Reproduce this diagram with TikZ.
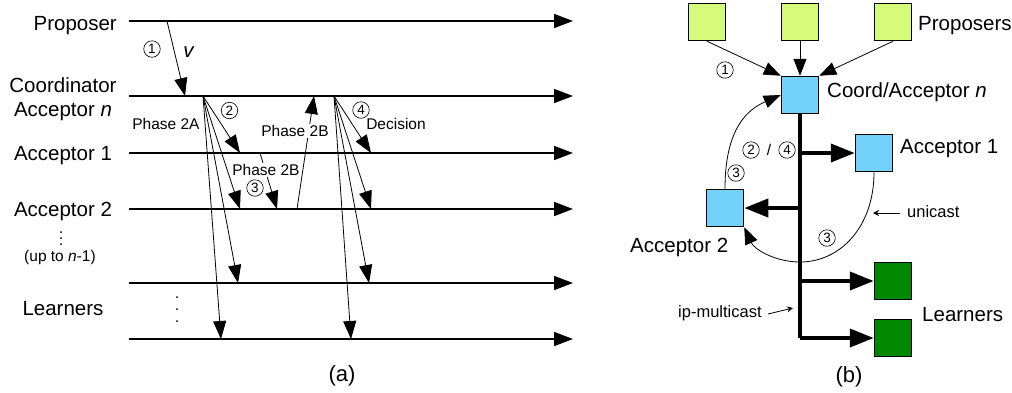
\documentclass[tikz,border=0pt]{standalone}
\usepackage{fontspec}
\setmainfont{Liberation Sans}
\usetikzlibrary{arrows.meta}

\definecolor{propgreen}{RGB}{214,250,122}
\definecolor{accblue}{RGB}{116,210,250}
\definecolor{learngreen}{RGB}{0,136,0}

\tikzset{
 timeline/.style={line width=1.6pt,-{Triangle[length=19pt,width=14pt]}},
 msg/.style={line width=0.8pt,-{Triangle[length=18pt,width=13pt]}},
 lbl/.style={font=\fontsize{20.5}{22}\selectfont, inner sep=0pt},
 small/.style={font=\fontsize{15.5}{17}\selectfont, inner sep=0pt},
 smallb/.style={font=\fontsize{16.5}{18}\selectfont, inner sep=0pt},
 circ/.style={circle, draw, line width=0.6pt, minimum size=16.5pt, inner sep=0pt,
   font=\fontsize{13.5}{14}\selectfont},
 box/.style={draw, line width=1.5pt, minimum width=37pt, minimum height=37pt, inner sep=0pt},
 bus/.style={line width=4pt},
 busarrow/.style={line width=4pt,-{Triangle[length=24pt,width=18pt]}},
 parrow/.style={line width=0.8pt,-{Triangle[length=17pt,width=13pt]}},
 carrow/.style={line width=0.8pt,-{Triangle[length=17pt,width=13pt]}},
 note/.style={line width=0.8pt,-{Stealth[length=6pt,width=6pt]}},
 dot/.style={circle, fill, inner sep=0pt, minimum size=2pt},
}

\begin{document}
\begin{tikzpicture}[x=1pt,y=-1pt]
\useasboundingbox (0,0) rectangle (1012,392);

% ---------- panel (a): timelines ----------
\foreach \n/\y in {P/21,C/96,A1/153,A2/209,L1/283,L2/339}{
  \coordinate (\n s) at (129,\y);
  \coordinate (\n e) at (573,\y);
  \draw[timeline] (\n s) -- (\n e);
}

\node[lbl, anchor=base east] (tP) at (117,30) {Proposer};
\node[lbl, anchor=base] (tC1) at (63,92) {Coordinator};
\node[lbl, anchor=base] (tC2) at (63,116) {Acceptor \textit{n}};
\node[lbl, anchor=base] (tA1) at (63,160) {Acceptor 1};
\node[lbl, anchor=base] (tA2) at (63,216) {Acceptor 2};
\node[small, anchor=base] (tup) at (60,261) {(up to \textit{n}-1)};
\node[lbl, anchor=base] (tL) at (63,315) {Learners};

\node[dot] (d1) at (61,232) {};
\node[dot] (d2) at (61,238) {};
\node[dot] (d3) at (61,244) {};
\node[dot] (e1) at (177,297) {};
\node[dot] (e2) at (177,309) {};
\node[dot] (e3) at (177,321) {};

% proposer -> coordinator
\coordinate (m1s) at (167,21);
\coordinate (m1e) at (185,96);
\draw[msg] (m1s) -- (m1e);
\node[circ] (n1) at (152,49) {1};
\node[lbl] (v) at (189,52) {\textit{v}};

% phase 2A fan
\coordinate (fa) at (203,96);
\coordinate (fa1) at (240,153);
\coordinate (fa2) at (240,209);
\coordinate (fa3) at (238,283);
\coordinate (fa4) at (221,339);
\foreach \t in {fa1,fa2,fa3,fa4} \draw[msg] (fa) -- (\t);
\node[circ] (n2) at (229.5,110.5) {2};
\node[small] (ph2a) at (166,124) {Phase 2A};

% acceptor 1 -> acceptor 2
\coordinate (m3s) at (260,153);
\coordinate (m3e) at (277,209);
\draw[msg] (m3s) -- (m3e);
% acceptor 2 -> coordinator
\coordinate (m4s) at (297,209);
\coordinate (m4e) at (314,96);
\draw[msg] (m4s) -- (m4e);
\node[small, fill=white, inner sep=1pt] (ph2b1) at (266,170) {Phase 2B};
\node[circ] (n3) at (255,188) {3};
\node[small, fill=white, inner sep=1pt] (ph2b2) at (295,131) {Phase 2B};

% decision fan
\coordinate (fb) at (334,96);
\coordinate (fb1) at (371,153);
\coordinate (fb2) at (371,209);
\coordinate (fb3) at (369,283);
\coordinate (fb4) at (351,339);
\foreach \t in {fb1,fb2,fb3,fb4} \draw[msg] (fb) -- (\t);
\node[circ] (n4) at (361,110) {4};
\node[small] (dec) at (396,124) {Decision};

\node[font=\fontsize{22}{24}\selectfont, inner sep=0pt] (capa) at (342,376) {(a)};

% ---------- panel (b) ----------
\node[box, fill=propgreen] (bP1) at (707,22) {};
\node[box, fill=propgreen] (bP2) at (800,22) {};
\node[box, fill=propgreen] (bP3) at (893,22) {};
\node[box, fill=accblue] (bC) at (800,95) {};
\node[box, fill=accblue] (bA1) at (874,153) {};
\node[box, fill=accblue] (bA2) at (725,208) {};
\node[box, fill=learngreen] (bL1) at (893,281) {};
\node[box, fill=learngreen] (bL2) at (893,338) {};

\node[lbl, anchor=base west] (lP) at (918,30) {Proposers};
\node[lbl, anchor=base west] (lC) at (827,97) {Coord/Acceptor \textit{n}};
\node[lbl, anchor=base west] (lA1) at (900,153) {Acceptor 1};
\node[lbl, anchor=base west] (lA2) at (630,252) {Acceptor 2};
\node[lbl, anchor=base west] (lL) at (922,321) {Learners};

\draw[parrow] (bP1.south) -- (bC.north west);
\draw[parrow] (bP2.south) -- (bC.north);
\draw[parrow] (bP3.south) -- (bC.north east);
\node[circ] (b1) at (725,70) {1};

% bus
\coordinate (busend) at (800,338);
\draw[bus] (bC.south) -- (busend);
\draw[busarrow] (bC.south |- bA1.west) -- (bA1.west);
\draw[busarrow] (bC.south |- bA2.east) -- (bA2.east);
\draw[busarrow] (bC.south |- bL1.west) -- (bL1.west);
\draw[busarrow] (busend) -- (bL2.west);
\node[circ] (b2) at (751,150) {2};
\node[small] (bsl) at (769,150) {/};
\node[circ] (b4) at (787,150) {4};

% unicast curves
\draw[carrow] (bA2.north) .. controls +(0,-62) and +(-32,14) .. (bC.west);
\node[circ] (b3a) at (736,173) {3};
\coordinate (cbot) at (800,262);
\draw[carrow] (bA1.south) .. controls +(0,55) and +(40,0) .. (cbot)
  .. controls +(-25,0) and +(10,22) .. (bA2.south east);
\node[circ] (b3b) at (827,238) {3};

% notes
\node[smallb, anchor=base west] (uni) at (907,217) {unicast};
\coordinate (uniS) at (900,213);
\coordinate (uniE) at (873,213);
\draw[note] (uniS) -- (uniE);
\node[smallb, anchor=base west] (ipm) at (678,317) {ip-multicast};
\coordinate (ipS) at (768,314);
\coordinate (ipE) at (793,308);
\draw[note] (ipS) -- (ipE);

\node[font=\fontsize{22}{24}\selectfont, inner sep=0pt] (capb) at (849,377) {(b)};
\end{tikzpicture}
\end{document}
